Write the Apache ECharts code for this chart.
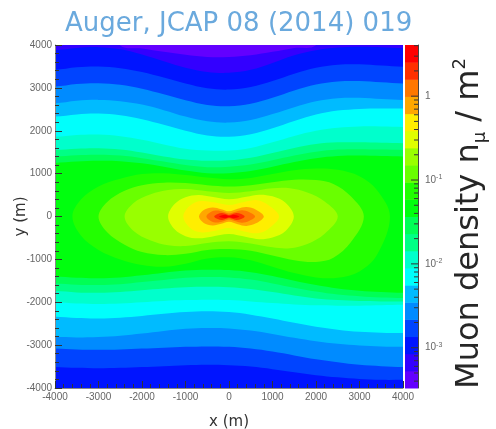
<!DOCTYPE html>
<html>
<head>
<meta charset="utf-8">
<script src="https://cdn.jsdelivr.net/npm/echarts@6/dist/echarts.min.js"></script>
<style>
  html, body { margin: 0; padding: 0; background: #fff; }
  #chart { width: 496px; height: 429px; }
</style>
</head>
<body>
<div id="chart"></div>
<script>
// Muon density at ground level, filled log10 contours (20 bands).

// Colour scale: log10(n_mu / m^2) from levelMin to levelMax in 20 equal bands
const levelMin = -3.48;
const levelMax = 0.61;
const bandCount = 20;

// Colour-bar tick marks (density values) and their labels
const barTickValues = [1, 0.1, 0.01, 0.001];
const barTickLabels = ['{b|1}', '{b|10}{e|-1}', '{b|10}{e|-2}', '{b|10}{e|-3}'];

// Open contours (levels 1..10) that cross the whole map, sampled along x (m).
// Each row gives the upper and the lower edge (y, m) of the region above that level;
// +-4000 means the edge runs out of the frame there.
const contourX = [-4000, -3500, -3000, -2500, -2000, -1500, -1000, -500, 0, 500, 1000, 1500, 2000, 2500, 3000, 3500, 4000];
const upperY = [
  [4000, 4000, 4000, 3990, 3920, 3840, 3770, 3720, 3720, 3760, 3840, 3930, 3995, 4000, 4000, 4000, 4000],
  [3880, 3930, 3950, 3900, 3780, 3620, 3470, 3370, 3350, 3420, 3580, 3760, 3880, 3940, 3960, 3950, 3930],
  [3420, 3480, 3500, 3460, 3370, 3240, 3100, 2990, 2960, 3020, 3160, 3330, 3470, 3540, 3550, 3520, 3490],
  [3030, 3090, 3110, 3070, 2980, 2850, 2710, 2600, 2570, 2630, 2770, 2940, 3080, 3150, 3160, 3130, 3100],
  [2640, 2700, 2720, 2690, 2610, 2480, 2330, 2220, 2190, 2250, 2390, 2550, 2690, 2760, 2770, 2740, 2720],
  [2330, 2380, 2400, 2360, 2270, 2140, 2000, 1890, 1860, 1920, 2060, 2230, 2380, 2470, 2510, 2520, 2520],
  [1860, 1900, 1910, 1870, 1790, 1680, 1580, 1540, 1540, 1600, 1730, 1880, 2000, 2070, 2100, 2100, 2090],
  [1550, 1580, 1590, 1560, 1490, 1400, 1330, 1300, 1310, 1370, 1480, 1600, 1690, 1730, 1730, 1720, 1710],
  [1400, 1430, 1440, 1420, 1360, 1280, 1200, 1150, 1160, 1210, 1310, 1420, 1510, 1560, 1570, 1560, 1550],
  [1250, 1280, 1300, 1290, 1240, 1160, 1070, 1010, 1010, 1060, 1160, 1270, 1360, 1410, 1420, 1410, 1400]
];
const lowerY = [
  [-4000, -4000, -4000, -4000, -4000, -4000, -4000, -4000, -4000, -4000, -4000, -4000, -4000, -4000, -4000, -4000, -4000],
  [-4000, -4000, -4000, -4000, -4000, -4000, -4000, -4000, -4000, -4000, -4000, -4000, -4000, -4000, -4000, -4000, -4000],
  [-3510, -3530, -3540, -3530, -3510, -3490, -3470, -3460, -3470, -3500, -3560, -3630, -3700, -3750, -3790, -3810, -3810],
  [-3080, -3100, -3110, -3100, -3080, -3060, -3040, -3030, -3040, -3080, -3150, -3240, -3330, -3400, -3460, -3490, -3510],
  [-2810, -2820, -2810, -2780, -2730, -2670, -2620, -2600, -2610, -2660, -2740, -2830, -2910, -2970, -3010, -3030, -3040],
  [-2340, -2370, -2380, -2360, -2320, -2270, -2230, -2210, -2230, -2290, -2380, -2480, -2570, -2640, -2690, -2710, -2720],
  [-2000, -2030, -2040, -2030, -2000, -1970, -1950, -1940, -1950, -1980, -2020, -2050, -2070, -2080, -2080, -2070, -2060],
  [-1740, -1770, -1780, -1760, -1720, -1680, -1650, -1640, -1650, -1690, -1760, -1840, -1910, -1950, -1970, -1980, -1980],
  [-1560, -1590, -1600, -1580, -1530, -1480, -1430, -1410, -1420, -1470, -1560, -1660, -1750, -1820, -1860, -1890, -1900],
  [-1400, -1430, -1440, -1420, -1370, -1310, -1260, -1240, -1250, -1300, -1390, -1500, -1600, -1680, -1730, -1760, -1780]
];

// Closed contours (levels 11..19) around the core: x samples, upper and lower edges (m)
const loopX = [
  [-3600, -3400, -3000, -2500, -2000, -1500, -1000, -500, 0, 500, 1000, 1500, 2000, 2500, 3000, 3400, 3700],
  [-3000, -2800, -2400, -2000, -1500, -1000, -500, 0, 500, 1000, 1500, 2000, 2400, 2800, 3100],
  [-2400, -2200, -1800, -1400, -1000, -500, 0, 500, 1000, 1400, 1800, 2200, 2500],
  [-1400, -1250, -1000, -700, -400, 0, 400, 700, 1000, 1300, 1490],
  [-1050, -900, -650, -350, 0, 350, 650, 900, 1150],
  [-690, -580, -380, -180, 0, 200, 400, 620, 800],
  [-520, -420, -280, -130, 0, 150, 300, 460, 600],
  [-340, -260, -160, -60, 0, 70, 170, 280, 360],
  [-230, -160, -90, -30, 0, 40, 100, 170, 240]
];
const loopTop = [
  [0, 400, 700, 880, 990, 1010, 970, 910, 870, 900, 990, 1080, 1120, 1090, 940, 620, 0],
  [0, 340, 600, 730, 790, 780, 730, 700, 730, 800, 860, 850, 760, 470, 0],
  [0, 310, 520, 620, 640, 590, 550, 590, 660, 660, 560, 350, 0],
  [0, 290, 450, 500, 460, 400, 460, 510, 470, 320, 0],
  [0, 250, 360, 330, 270, 340, 380, 270, 0],
  [0, 150, 210, 170, 120, 180, 220, 160, 0],
  [0, 105, 140, 110, 70, 110, 145, 105, 0],
  [0, 60, 80, 55, 35, 55, 80, 60, 0],
  [0, 32, 42, 22, 12, 22, 42, 32, 0]
];
const loopBottom = [
  [0, -450, -780, -1000, -1130, -1170, -1100, -980, -950, -1020, -1170, -1320, -1420, -1430, -1280, -900, 0],
  [0, -370, -660, -830, -900, -870, -780, -760, -800, -910, -1020, -1060, -960, -600, 0],
  [0, -330, -560, -670, -690, -620, -580, -630, -720, -740, -640, -400, 0],
  [0, -300, -460, -510, -470, -410, -480, -530, -490, -340, 0],
  [0, -260, -370, -340, -270, -350, -390, -290, 0],
  [0, -150, -210, -170, -120, -180, -220, -160, 0],
  [0, -105, -140, -110, -70, -110, -145, -105, 0],
  [0, -60, -80, -55, -35, -55, -80, -60, 0],
  [0, -32, -42, -22, -12, -22, -42, -32, 0]
];

// Rainbow palette, violet (lowest band) to red (highest band)
const bandColors = [
  '#6300ff', '#3300ff', '#0014ff', '#0044ff', '#008bff',
  '#00bbff', '#00fffc', '#00ffcc', '#00ff85', '#00ff55',
  '#00ff0e', '#22ff00', '#69ff00', '#99ff00', '#e0ff00',
  '#ffee00', '#ffa700', '#ff7700', '#ff3000', '#ff0000'
];

const bandStep = (levelMax - levelMin) / bandCount;
const FONT = 'Liberation Sans';

// Edges at the frame are pushed outside so the clipped fill reaches the border
function pushOut(v) {
  return Math.abs(v) >= 4000 ? Math.sign(v) * 4800 : v;
}

function openContourPoints(api, idx) {
  const top = upperY[idx], bot = lowerY[idx], n = contourX.length;
  const pts = [];
  pts.push(api.coord([-4800, pushOut(top[0])]));
  for (let i = 0; i < n; i++) pts.push(api.coord([contourX[i], pushOut(top[i])]));
  pts.push(api.coord([4800, pushOut(top[n - 1])]));
  pts.push(api.coord([4800, pushOut(bot[n - 1])]));
  for (let i = n - 1; i >= 0; i--) pts.push(api.coord([contourX[i], pushOut(bot[i])]));
  pts.push(api.coord([-4800, pushOut(bot[0])]));
  return pts;
}

function loopPoints(api, idx) {
  const xs = loopX[idx], top = loopTop[idx], bot = loopBottom[idx], n = xs.length;
  const pts = [];
  for (let i = 0; i < n; i++) pts.push(api.coord([xs[i], top[i]]));
  for (let i = n - 1; i >= 0; i--) {
    if ((i === 0 || i === n - 1) && bot[i] === top[i]) continue;
    pts.push(api.coord([xs[i], bot[i]]));
  }
  return pts;
}

// contour levels drawn lowest first, each filling the region above it
const levelData = [];
for (let k = 1; k < bandCount; k++) levelData.push([k]);

const barBands = [];
for (let k = 0; k < bandCount; k++) barBands.push([k]);

const barTicks = barTickValues.map((v, i) => [Math.log10(v), i]);
const barMinorTicks = [];
for (let e = -4; e <= 0; e++) {
  for (let m = 2; m <= 9; m++) {
    const lv = e + Math.log10(m);
    if (lv > levelMin && lv < levelMax) barMinorTicks.push([lv]);
  }
}

const axisCommon = {
  type: 'value', min: -4000, max: 4000, interval: 1000, z: 10,
  axisLine: { show: true, onZero: false, lineStyle: { color: '#8a8a8a', width: 1 } },
  axisTick: { show: true, inside: true, length: 7, lineStyle: { color: '#333' } },
  minorTick: { show: true, splitNumber: 5, length: 4, lineStyle: { color: '#333' } },
  splitLine: { show: false }
};

const chart = echarts.init(document.getElementById('chart'), null, { renderer: 'canvas' });

chart.setOption({
  animation: false,
  backgroundColor: '#ffffff',
  title: {
    text: 'Auger, JCAP 08 (2014) 019',
    left: 60,
    top: 6,
    textStyle: { fontFamily: 'DejaVu Sans', fontSize: 26, fontWeight: 'normal', color: '#6aa9dd' }
  },
  grid: [
    { left: 55, top: 45, width: 348, height: 343, show: true, backgroundColor: bandColors[0], borderWidth: 0, outerBoundsMode: 'none', containLabel: false },
    { left: 405, top: 45, width: 13, height: 343, show: false, outerBoundsMode: 'none', containLabel: false }
  ],
  xAxis: [
    Object.assign({}, axisCommon, {
      gridIndex: 0,
      axisLabel: { fontFamily: FONT, fontSize: 10, color: '#666', margin: 4, formatter: v => String(v) },
      name: 'x (m)', nameLocation: 'middle', nameGap: 27, nameMoveOverlap: false,
      nameTextStyle: { fontFamily: 'DejaVu Sans', fontSize: 15, color: '#333' }
    }),
    { gridIndex: 1, type: 'value', min: 0, max: 1, show: false }
  ],
  yAxis: [
    Object.assign({}, axisCommon, {
      gridIndex: 0,
      axisLabel: { fontFamily: FONT, fontSize: 10, color: '#666', margin: 3, formatter: v => String(v) },
      name: 'y (m)', nameLocation: 'middle', nameGap: 26, nameRotate: 90, nameMoveOverlap: false,
      nameTextStyle: { fontFamily: 'DejaVu Sans', fontSize: 15, color: '#333' }
    }),
    {
      gridIndex: 1, type: 'value', min: levelMin, max: levelMax, position: 'right', z: 10,
      axisLine: { show: true, onZero: false, lineStyle: { color: '#444', width: 1 } },
      axisTick: { show: false }, axisLabel: { show: false }, splitLine: { show: false },
      name: '{a|Muon density n}{s|μ}{a| / m}{p|2}',
      nameLocation: 'middle', nameRotate: 90, nameGap: 33,
      nameTextStyle: {
        color: '#262626',
        padding: [0, 14, 0, 0],
        rich: {
          a: { fontFamily: 'DejaVu Sans', fontSize: 32, color: '#262626', lineHeight: 38, verticalAlign: 'middle' },
          s: { fontFamily: 'DejaVu Sans', fontSize: 18, color: '#262626', lineHeight: 18, verticalAlign: 'bottom' },
          p: { fontFamily: 'DejaVu Sans', fontSize: 18, color: '#262626', lineHeight: 18, verticalAlign: 'top' }
        }
      }
    }
  ],
  series: [
    {
      // filled contour bands of the density map
      type: 'custom',
      xAxisIndex: 0, yAxisIndex: 0,
      coordinateSystem: 'cartesian2d',
      clip: true,
      silent: true,
      z: 2,
      data: levelData,
      renderItem: function (params, api) {
        const k = api.value(0);
        const pts = k <= upperY.length ? openContourPoints(api, k - 1) : loopPoints(api, k - 1 - upperY.length);
        return {
          type: 'polygon',
          shape: { points: pts, smooth: 0.35 },
          style: { fill: bandColors[k], stroke: null }
        };
      }
    },
    {
      // colour bar bands
      type: 'custom',
      xAxisIndex: 1, yAxisIndex: 1,
      coordinateSystem: 'cartesian2d',
      silent: true,
      z: 2,
      data: barBands,
      renderItem: function (params, api) {
        const k = api.value(0);
        const p0 = api.coord([0, levelMin + k * bandStep]);
        const p1 = api.coord([1, levelMin + (k + 1) * bandStep]);
        return {
          type: 'rect',
          shape: { x: p0[0], y: p1[1], width: p1[0] - p0[0], height: p0[1] - p1[1] + 0.5 },
          style: { fill: bandColors[k] }
        };
      }
    },
    {
      // colour bar minor ticks
      type: 'custom',
      xAxisIndex: 1, yAxisIndex: 1,
      coordinateSystem: 'cartesian2d',
      silent: true,
      z: 5,
      data: barMinorTicks,
      renderItem: function (params, api) {
        const p = api.coord([1, api.value(0)]);
        return {
          type: 'line',
          shape: { x1: p[0], y1: p[1], x2: p[0] - 4, y2: p[1] },
          style: { stroke: '#333', lineWidth: 1 }
        };
      }
    },
    {
      // colour bar major ticks and labels
      type: 'custom',
      xAxisIndex: 1, yAxisIndex: 1,
      coordinateSystem: 'cartesian2d',
      silent: true,
      z: 5,
      data: barTicks,
      renderItem: function (params, api) {
        const p = api.coord([1, api.value(0)]);
        const label = barTickLabels[api.value(1)];
        return {
          type: 'group',
          children: [
            { type: 'line', shape: { x1: p[0], y1: p[1], x2: p[0] - 7, y2: p[1] }, style: { stroke: '#333', lineWidth: 1 } },
            {
              type: 'text', x: p[0] + 7, y: p[1],
              style: {
                text: label, align: 'left', verticalAlign: 'middle',
                rich: {
                  b: { fontFamily: FONT, fontSize: 10, fill: '#666', lineHeight: 12, verticalAlign: 'middle' },
                  e: { fontFamily: FONT, fontSize: 7, fill: '#666', lineHeight: 7, verticalAlign: 'top' }
                }
              }
            }
          ]
        };
      }
    }
  ]
});
</script>
</body>
</html>
